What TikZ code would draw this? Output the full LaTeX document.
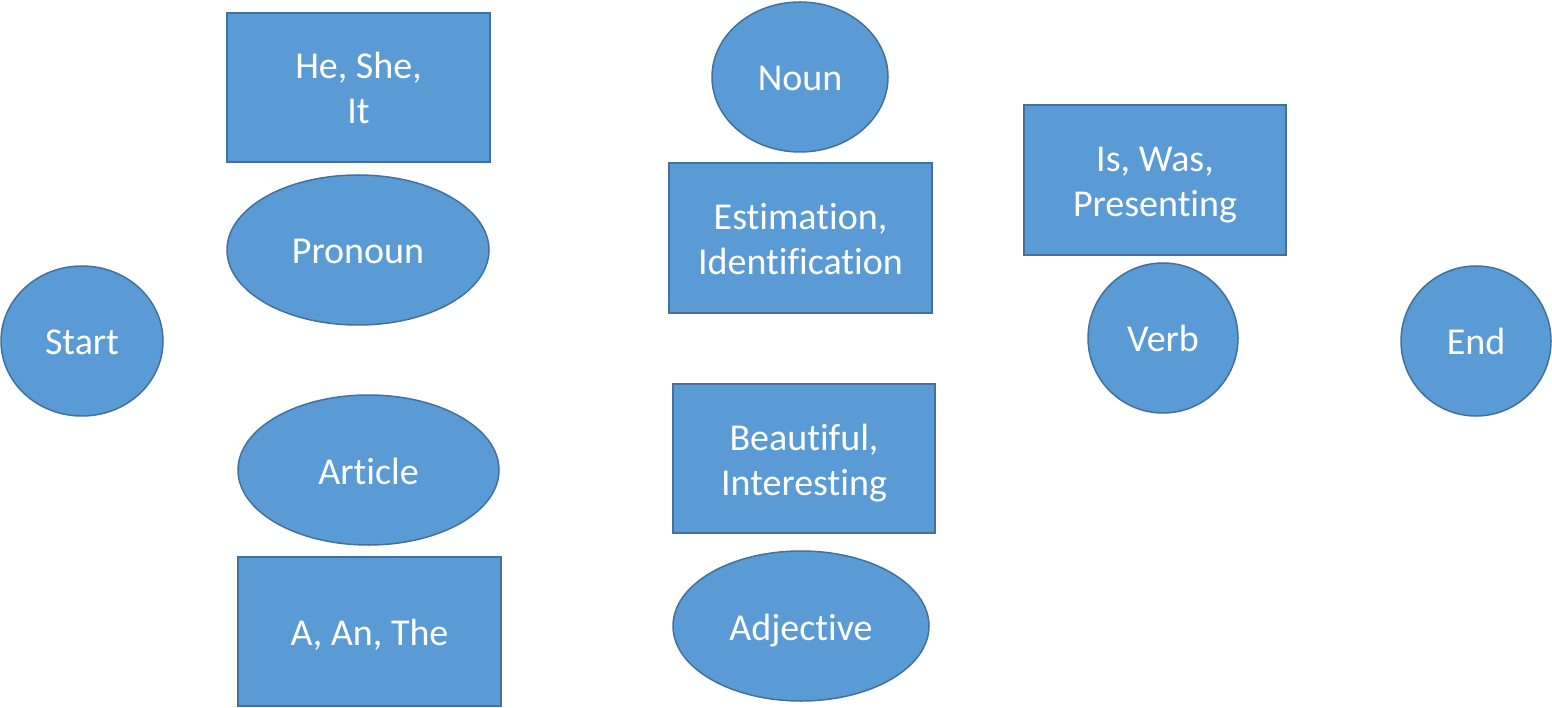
\documentclass[tikz,border=0pt]{standalone}
\usepackage{fontspec}
\setmainfont[RawFeature={-liga}]{Carlito}
\usepackage{tikz}
\usetikzlibrary{positioning,shapes.geometric}
\definecolor{boxfill}{HTML}{5B9BD5}
\definecolor{boxline}{HTML}{41719C}
\newcommand{\twoline}[2]{\rule{0pt}{36pt}#1\\#2\rule[-8pt]{0pt}{8pt}}

\begin{document}
\begin{tikzpicture}[x=1pt,y=-1pt,align=center,inner sep=0pt,font=\fontsize{38}{45}\selectfont,
        execute at begin node={\rule{0pt}{36pt}},execute at end node={\rule[-8pt]{0pt}{8pt}}]
            \tikzstyle{word}=[draw=boxline,fill=boxfill,line width=1.5pt,text=white]
            \tikzstyle{box}=[word,rectangle,minimum width=263pt,minimum height=149pt]
            \tikzstyle{oval}=[word,ellipse,minimum width=262pt,minimum height=150pt]
            \useasboundingbox (0,0) rectangle (1552,708);

            \node[oval,minimum width=162pt] (start) at (82,341) {Start};

            \node[box] (pron words) at (358.5,87.5) {\twoline{He, She,}{It}};
            \node[oval] (pronoun) at (358,250) {Pronoun};
            \node[oval,minimum width=261pt] (article) at (368.5,470) {Article};
            \node[box] (art words) at (369.5,631.5) {A, An, The};

            \node[oval,minimum width=176pt] (noun) at (800,77) {Noun};
            \node[box,minimum height=150pt] (noun words) at (800.5,238) {\twoline{Estimation,}{Identification}};
            \node[box,minimum width=262pt] (adj words) at (804,458.5) {\twoline{Beautiful,}{Interesting}};
            \node[oval,minimum width=256pt] (adjective) at (801,626) {Adjective};

            \node[box,minimum width=262pt,minimum height=150pt] (verb words) at (1155,180) {\twoline{Is, Was,}{Presenting}};
            \node[oval,minimum width=150pt] (verb) at (1163,338) {Verb};

            \node[oval,minimum width=150pt] (end) at (1476,341) {End};
        \end{tikzpicture}
\end{document}
